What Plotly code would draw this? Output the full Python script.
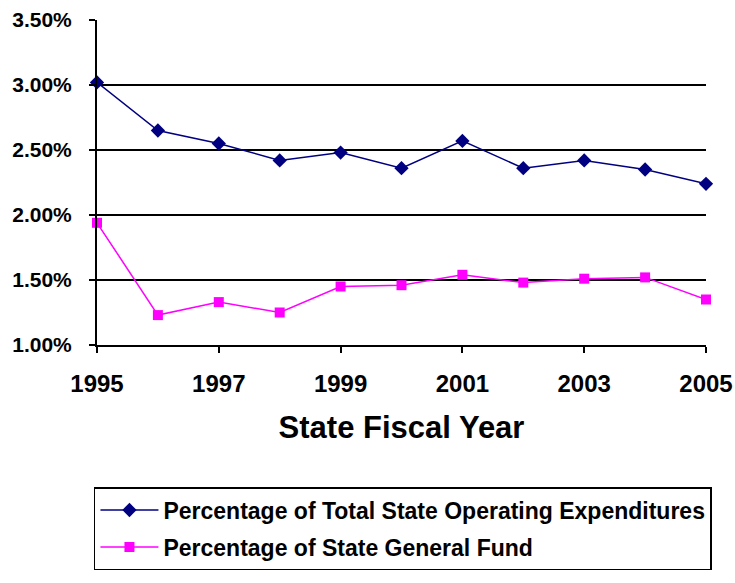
import plotly.graph_objects as go

years = [1995, 1996, 1997, 1998, 1999, 2000, 2001, 2002, 2003, 2004, 2005]
total_ops = [3.02, 2.65, 2.55, 2.42, 2.48, 2.36, 2.57, 2.36, 2.42, 2.35, 2.24]
general_fund = [1.94, 1.23, 1.33, 1.25, 1.45, 1.46, 1.54, 1.48, 1.51, 1.52, 1.35]
y_ticks = [1.0, 1.5, 2.0, 2.5, 3.0, 3.5]
y_labels = ["1.00%", "1.50%", "2.00%", "2.50%", "3.00%", "3.50%"]
x_ticks = [1995, 1997, 1999, 2001, 2003, 2005]

font = "Liberation Sans, Arial, sans-serif"

fig = go.Figure()
fig.add_trace(go.Scatter(
    x=years, y=total_ops, mode="lines+markers",
    name="Percentage of Total State Operating Expenditures",
    legendgroup="a",
    line=dict(color="#000080", width=1.5),
    marker=dict(symbol="diamond", size=11, color="#000080"),
    cliponaxis=False,
))
fig.add_trace(go.Scatter(
    x=years, y=general_fund, mode="lines+markers",
    name="Percentage of State General Fund",
    legendgroup="b",
    line=dict(color="#FF00FF", width=1.5),
    marker=dict(symbol="square", size=10, color="#FF00FF"),
    cliponaxis=False,
))

fig.update_layout(
    width=735, height=583,
    margin=dict(l=97, r=29, t=20, b=238, autoexpand=False),
    paper_bgcolor="white", plot_bgcolor="white",
    font=dict(family=font, color="black"),
    showlegend=True,
    legend=dict(
        x=-0.005, y=-0.437, xanchor="left", yanchor="top",
        bordercolor="black", borderwidth=1.5,
        font=dict(family=font, size=23, color="black", weight="bold"),
        traceorder="grouped", tracegroupgap=4, itemwidth=58,
    ),
)
fig.update_xaxes(
    range=[1995, 2005], tickvals=x_ticks, ticktext=[str(v) for v in x_ticks],
    showgrid=False, showline=True, linecolor="black", linewidth=2,
    ticks="outside", ticklen=6, tickwidth=1.5, tickcolor="black",
    tickfont=dict(family=font, size=24, weight="bold"),
    ticklabelstandoff=10, automargin=False,
    title=dict(text="State Fiscal Year", font=dict(family=font, size=31, weight="bold"), standoff=21),
    zeroline=False,
)
fig.update_yaxes(
    range=[1.0, 3.5], tickvals=y_ticks, ticktext=y_labels,
    showgrid=True, gridcolor="black", gridwidth=2,
    showline=True, linecolor="black", linewidth=2,
    ticks="outside", ticklen=6, tickwidth=1.5, tickcolor="black",
    tickfont=dict(family=font, size=21, weight="bold"),
    ticklabelstandoff=13, automargin=False,
    zeroline=False,
)

fig.write_html("out.html")
